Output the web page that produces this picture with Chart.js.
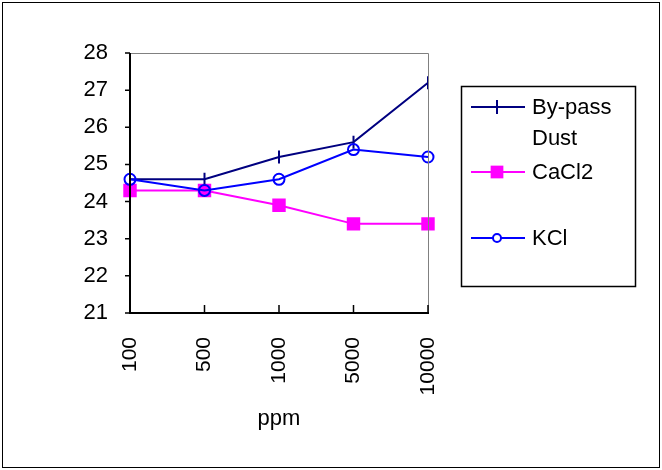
<!DOCTYPE html>
<html>
<head>
<meta charset="utf-8">
<script src="https://cdn.jsdelivr.net/npm/chart.js@4"></script>
<style>
  html, body { margin: 0; padding: 0; background: #fff; }
  #wrap { width: 662px; height: 470px; }
</style>
</head>
<body>
<div id="wrap"><canvas id="graph"></canvas></div>
<script>
/* ---------- données ---------- */
const categories = ["100", "500", "1000", "5000", "10000"];
const bypassDust = [24.6, 24.6, 25.2, 25.6, 27.2];
const cacl2 = [24.3, 24.3, 23.9, 23.4, 23.4];
const kcl = [24.6, 24.3, 24.6, 25.4, 25.2];
const yTicks = [21, 22, 23, 24, 25, 26, 27, 28];
const seriesNames = ["By-pass Dust", "CaCl2", "KCl"];

const FONT = "'Liberation Sans', Arial, sans-serif";

/* ---------- cadre, axes et légende dessinés à la main ---------- */
const frame = {
  id: "frame",
  afterDraw(chart) {
    const c = chart.ctx;
    const a = chart.chartArea;
    const xs = chart.scales.x;
    const ys = chart.scales.y;
    c.save();
    // bordure extérieure
    c.strokeStyle = "#000";
    c.lineWidth = 1;
    c.strokeRect(2.5, 2.5, 657, 465);
    // bords haut / droite en gris
    c.strokeStyle = "#808080";
    c.beginPath();
    c.moveTo(a.left, a.top + 0.5);
    c.lineTo(a.right + 0.5, a.top + 0.5);
    c.lineTo(a.right + 0.5, a.bottom);
    c.stroke();
    // axes noirs
    c.strokeStyle = "#000";
    c.lineWidth = 2;
    c.beginPath();
    c.moveTo(a.left, a.top);
    c.lineTo(a.left, a.bottom);
    c.lineTo(a.right + 1, a.bottom);
    c.stroke();
    // graduations
    c.lineWidth = 1.5;
    c.beginPath();
    yTicks.forEach(v => {
      const y = ys.getPixelForValue(v);
      c.moveTo(a.left - 5, y);
      c.lineTo(a.left, y);
    });
    categories.forEach((cat, i) => {
      const x = xs.getPixelForValue(i);
      c.moveTo(x, a.bottom);
      c.lineTo(x, a.bottom - 8);
    });
    c.stroke();

    // légende
    c.lineWidth = 1.5;
    c.strokeStyle = "#000";
    c.strokeRect(461.5, 86.5, 174, 200);
    c.font = "22px " + FONT;
    c.textBaseline = "middle";
    const rows = [
      {ds: 0, y: 107, r: 7, lines: ["By-pass", "Dust"]},
      {ds: 1, y: 172, r: 9, lines: ["CaCl2"]},
      {ds: 2, y: 238, r: 4, lines: ["KCl"]}
    ];
    rows.forEach(r => {
      const d = chart.data.datasets[r.ds];
      c.strokeStyle = d.borderColor;
      c.lineWidth = 2;
      c.beginPath();
      c.moveTo(471, r.y);
      c.lineTo(525, r.y);
      c.stroke();
      c.strokeStyle = d.pointBorderColor || d.borderColor;
      c.fillStyle = r.ds === 2 ? "#fff" : (d.pointBackgroundColor || d.borderColor);
      c.lineWidth = d.pointBorderWidth;
      Chart.helpers.drawPoint(c, {
        pointStyle: d.pointStyle,
        rotation: d.pointRotation || 0,
        radius: r.r,
        borderWidth: d.pointBorderWidth
      }, 497, r.y);
      c.fillStyle = "#000";
      r.lines.forEach((t, k) => c.fillText(t, 532, r.y + 1 + k * 31));
    });
    c.restore();
  }
};

/* ---------- graphique ---------- */
const ctx = document.getElementById("graph").getContext("2d");

const data = {
  labels: categories,
  datasets: [
    {
      label: seriesNames[0],
      data: bypassDust,
      order: 1,
      borderColor: "#000080",
      backgroundColor: "#000080",
      borderWidth: 2,
      pointStyle: "line",
      pointRotation: 90,
      pointRadius: 6.5,
      pointBorderWidth: 2,
      pointBorderColor: "#000080"
    },
    {
      label: seriesNames[1],
      data: cacl2,
      order: 2,
      borderColor: "#FF00FF",
      backgroundColor: "#FF00FF",
      borderWidth: 2,
      pointStyle: "rect",
      pointRadius: 9.5,
      pointBorderWidth: 0,
      pointBackgroundColor: "#FF00FF"
    },
    {
      label: seriesNames[2],
      data: kcl,
      order: 0,
      borderColor: "#0000FF",
      backgroundColor: "#fff",
      borderWidth: 2,
      pointStyle: "circle",
      pointRadius: 5.5,
      pointBorderWidth: 2,
      pointBackgroundColor: "rgba(255,255,255,0)",
      pointBorderColor: "#0000FF"
    }
  ]
};

const config = {
  type: "line",
  data: data,
  options: {
    responsive: false,
    animation: false,
    devicePixelRatio: 1,
    layout: { padding: { top: 53, right: 234, left: 0, bottom: 0 } },
    plugins: { legend: { display: false }, tooltip: { enabled: false } },
    scales: {
      x: {
        offset: false,
        grid: { display: false },
        border: { display: false },
        ticks: {
          color: "#000",
          font: { family: FONT, size: 21 },
          minRotation: 90,
          maxRotation: 90,
          padding: 16
        },
        title: {
          display: true,
          text: "ppm",
          color: "#000",
          font: { family: FONT, size: 22 },
          padding: { top: 22, bottom: 38 }
        },
        afterFit(s) { s.height = 157; }
      },
      y: {
        min: 21,
        max: 28,
        grid: { display: false },
        border: { display: false },
        ticks: {
          stepSize: 1,
          color: "#000",
          font: { family: FONT, size: 22 },
          padding: 14
        },
        afterFit(s) { s.width = 130; }
      }
    }
  },
  plugins: [frame]
};

const canvas = document.getElementById("graph");
canvas.width = 662;
canvas.height = 470;
const myChart = new Chart(ctx, config);
</script>
</body>
</html>
